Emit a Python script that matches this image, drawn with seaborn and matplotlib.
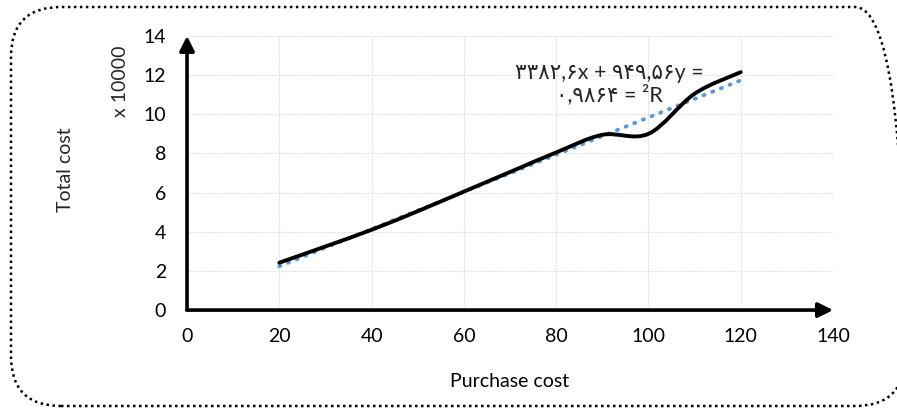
import numpy as np
import seaborn as sns
import matplotlib.pyplot as plt
from matplotlib.path import Path
from matplotlib.patches import PathPatch, FancyBboxPatch

# Data (total cost in units of 10000)
purchase_cost = [20, 30, 40, 50, 60, 70, 80, 90, 100, 110, 120]
total_cost = [2.42, 3.25, 4.1, 5.05, 6.05, 7.05, 8.05, 8.95, 9.0, 11.05, 12.15]

# Trend line as printed on the chart: y = 949.56x + 3382.6
trend_slope = 949.56
trend_intercept = 3382.6
scale = 10000

x_ticks = [0, 20, 40, 60, 80, 100, 120, 140]
y_ticks = [0, 2, 4, 6, 8, 10, 12, 14]

sns.set_theme(style="white")
plt.rcParams['font.family'] = ['Lato', 'DejaVu Sans']

fig = plt.figure(figsize=(8.97, 4.08), dpi=100)
ax = fig.add_axes([0.2085, 0.240, 0.7202, 0.672])

# rounded dotted frame around the whole chart (right side runs off the image), in inches
frame = FancyBboxPatch((0.11, 0.02), 8.94, 3.99,
                       boxstyle="round,pad=0,rounding_size=0.5",
                       transform=fig.dpi_scale_trans, fill=False,
                       edgecolor='black', linewidth=1.8, linestyle=(0, (1, 1.4)))
fig.patches.append(frame)

# linear trend line (dotted blue)
trend_x = np.array([purchase_cost[0], purchase_cost[-1]])
trend_y = (trend_slope * trend_x + trend_intercept) / scale
sns.lineplot(x=trend_x, y=trend_y, ax=ax, color='#5B9BD5', linewidth=2.8,
             linestyle=(0, (0.3, 2.1)), dash_capstyle='round', zorder=3)

# smoothed data line (Bezier through the data points, like a spreadsheet smooth line)
pts = np.column_stack([np.array(purchase_cost, float), np.array(total_cost, float)])
verts = [pts[0]]
codes = [Path.MOVETO]
n = len(pts)
for i in range(n - 1):
    p0 = pts[i - 1] if i > 0 else pts[i]
    p1 = pts[i]
    p2 = pts[i + 1]
    p3 = pts[i + 2] if i + 2 < n else pts[i + 1]
    verts += [p1 + (p2 - p0) / 6, p2 - (p3 - p1) / 6, p2]
    codes += [Path.CURVE4] * 3
curve = PathPatch(Path(verts, codes), fill=False, edgecolor='black',
                  linewidth=2.8, zorder=4, capstyle='round')
ax.add_patch(curve)

ax.set_xlim(0, 140)
ax.set_ylim(0, 14)
ax.set_xticks(x_ticks)
ax.set_yticks(y_ticks)
ax.tick_params(axis='both', labelsize=14, length=0, colors='black')
ax.tick_params(axis='x', pad=13)
ax.tick_params(axis='y', pad=15)
ax.grid(True, color='#e3e3e3', linestyle=(0, (2, 1)), linewidth=0.8)
for s in ax.spines.values():
    s.set_visible(False)

# axes with arrow heads
arrow = dict(arrowstyle='-|>', lw=2.6, color='black', mutation_scale=22, shrinkA=0, shrinkB=0)
ax.annotate('', xy=(0, 14), xytext=(0, 0), arrowprops=arrow, annotation_clip=False)
ax.annotate('', xy=(140, 0), xytext=(0, 0), arrowprops=arrow, annotation_clip=False)

ax.set_xlabel('Purchase cost', fontsize=14, labelpad=20, color='black')
fig.text(0.073, 0.583, 'Total cost', rotation=90, fontsize=14, ha='center', va='center')
fig.text(0.134, 0.80, 'x 10000', rotation=90, fontsize=14, ha='center', va='center')

# equation and R² label
ax.text(91.5, 11.55, '۳۳۸۲,۶x + ۹۴۹,۵۶y =\n۰,۹۸۶۴ = ²R', fontsize=15.5, ha='center', va='center',
        linespacing=1.1, family=['Lato', 'DejaVu Sans'], zorder=5)

fig.savefig('out.png', dpi=100)
